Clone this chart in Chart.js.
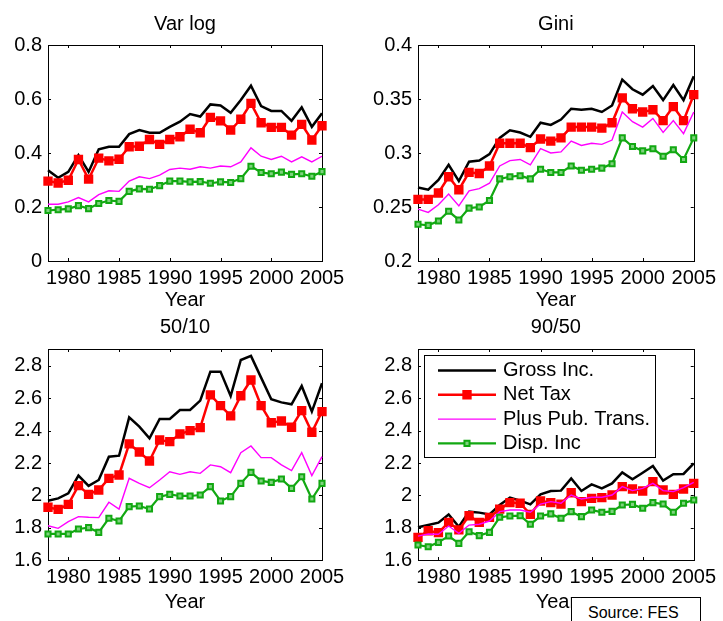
<!DOCTYPE html>
<html><head><meta charset="utf-8">
<script src="https://cdn.jsdelivr.net/npm/chart.js@4.4.0/dist/chart.umd.min.js"></script>
<style>
html,body{margin:0;padding:0;background:#fff;}
#wrap{position:relative;width:723px;height:621px;overflow:hidden;background:#fff;}
#wrap canvas{position:absolute;left:0;top:0;}
#src{position:absolute;left:571px;top:597px;width:130px;height:40px;border:1px solid #000;background:#fff;
 font-family:"Liberation Sans",Arial,sans-serif;font-size:16px;line-height:30px;padding-left:16px;box-sizing:border-box;color:#000;z-index:5;}
</style></head>
<body>
<div id="wrap">
<canvas id="c1" width="723" height="621"></canvas>
<canvas id="c2" width="723" height="621"></canvas>
<canvas id="c3" width="723" height="621"></canvas>
<canvas id="c4" width="723" height="621"></canvas>
<div id="src">Source: FES</div>
</div>
<script>
// ---------- data ----------
const years = [1978,1979,1980,1981,1982,1983,1984,1985,1986,1987,1988,1989,1990,1991,1992,1993,1994,1995,1996,1997,1998,1999,2000,2001,2002,2003,2004,2005];
const seriesLabels = ['Gross Inc.','Net Tax','Plus Pub. Trans.','Disp. Inc'];
const panelTitles = ['Var log','Gini','50/10','90/50'];

const varlogGross = [0.336,0.308,0.330,0.392,0.330,0.414,0.423,0.423,0.470,0.485,0.475,0.475,0.497,0.516,0.544,0.535,0.580,0.576,0.549,0.596,0.649,0.574,0.556,0.556,0.519,0.569,0.497,0.547];
const varlogNet   = [0.296,0.289,0.299,0.376,0.303,0.381,0.371,0.377,0.423,0.425,0.450,0.432,0.450,0.460,0.488,0.475,0.532,0.519,0.485,0.525,0.584,0.512,0.495,0.495,0.466,0.506,0.448,0.501];
const varlogPub   = [0.210,0.210,0.219,0.235,0.219,0.246,0.260,0.258,0.296,0.312,0.305,0.318,0.339,0.344,0.340,0.349,0.344,0.352,0.349,0.367,0.419,0.388,0.376,0.388,0.367,0.386,0.367,0.388];
const varlogDisp  = [0.187,0.190,0.193,0.205,0.194,0.213,0.224,0.221,0.258,0.267,0.266,0.279,0.296,0.296,0.293,0.294,0.288,0.293,0.291,0.305,0.351,0.328,0.323,0.329,0.321,0.323,0.314,0.331];

const giniGross = [0.268,0.266,0.275,0.289,0.274,0.292,0.293,0.299,0.314,0.321,0.319,0.315,0.328,0.326,0.331,0.341,0.340,0.341,0.338,0.344,0.368,0.359,0.354,0.362,0.349,0.363,0.349,0.371];
const giniNet   = [0.257,0.257,0.263,0.278,0.266,0.282,0.281,0.288,0.309,0.309,0.309,0.305,0.313,0.311,0.314,0.324,0.324,0.324,0.323,0.328,0.351,0.341,0.338,0.340,0.330,0.343,0.330,0.354];
const giniPub   = [0.248,0.245,0.252,0.262,0.251,0.265,0.267,0.272,0.288,0.293,0.294,0.289,0.304,0.300,0.301,0.311,0.307,0.309,0.308,0.312,0.338,0.329,0.324,0.332,0.319,0.330,0.318,0.338];
const giniDisp  = [0.234,0.233,0.237,0.246,0.238,0.249,0.250,0.256,0.276,0.278,0.279,0.276,0.285,0.282,0.282,0.288,0.284,0.285,0.286,0.290,0.314,0.306,0.302,0.304,0.297,0.303,0.294,0.314];

const r5010Gross = [1.967,1.981,2.012,2.122,2.058,2.095,2.239,2.245,2.482,2.425,2.353,2.472,2.472,2.528,2.528,2.586,2.765,2.765,2.614,2.837,2.862,2.728,2.594,2.575,2.563,2.676,2.518,2.693];
const r5010Net   = [1.926,1.913,1.944,2.060,2.006,2.033,2.105,2.126,2.318,2.268,2.212,2.342,2.332,2.379,2.400,2.419,2.621,2.555,2.491,2.616,2.713,2.555,2.449,2.460,2.421,2.524,2.390,2.518];
const r5010Pub   = [1.812,1.796,1.837,1.868,1.864,1.862,1.957,1.915,2.105,2.074,2.047,2.095,2.146,2.130,2.146,2.136,2.188,2.177,2.140,2.264,2.305,2.233,2.233,2.188,2.153,2.264,2.122,2.239];
const r5010Disp  = [1.761,1.761,1.761,1.792,1.800,1.771,1.858,1.841,1.930,1.934,1.915,1.992,2.006,1.996,1.996,2.002,2.054,1.965,1.992,2.074,2.142,2.089,2.080,2.101,2.043,2.115,1.977,2.074];

const r9050Gross = [1.802,1.816,1.831,1.882,1.806,1.899,1.893,1.882,1.940,1.986,1.967,1.944,2.006,2.027,2.029,2.105,2.027,2.068,2.043,2.074,2.142,2.099,2.140,2.181,2.091,2.130,2.132,2.198];
const r9050Net   = [1.740,1.781,1.769,1.833,1.786,1.874,1.833,1.864,1.915,1.955,1.951,1.882,1.965,1.955,1.946,2.016,1.961,1.981,1.986,2.002,2.054,2.039,2.027,2.085,2.033,2.006,2.039,2.074];
const r9050Pub   = [1.748,1.761,1.759,1.810,1.765,1.816,1.821,1.841,1.899,1.909,1.909,1.895,1.946,1.961,1.951,2.002,1.977,1.988,1.988,2.002,2.054,2.029,2.043,2.074,2.029,2.023,2.047,2.080];
const r9050Disp  = [1.693,1.682,1.709,1.748,1.703,1.775,1.751,1.771,1.864,1.872,1.874,1.821,1.872,1.885,1.858,1.899,1.868,1.909,1.895,1.901,1.940,1.944,1.920,1.955,1.946,1.895,1.951,1.971];

const xTicks = [1980,1985,1990,1995,2000,2005];
const varlogTicks = [0,0.2,0.4,0.6,0.8];
const giniTicks = [0.2,0.25,0.3,0.35,0.4];
const ratioTicks = [1.6,1.8,2,2.2,2.4,2.6,2.8];

// ---------- styling ----------
const FONT = '"Liberation Sans", Arial, Helvetica, sans-serif';
Chart.defaults.font.family = FONT;
Chart.defaults.color = '#000';

const seriesStyle = [
  {color:'#000000', width:2.5, radius:0},
  {color:'#ff0000', width:2.5, radius:5.2, fill:'#ff0000', bw:2},
  {color:'#ff00ff', width:1.4, radius:0},
  {color:'#12a812', width:2.2, radius:3.6, fill:'#7fd27f', bw:2}
];

const panels = [
  {id:'c1', title:panelTitles[0], series:[varlogGross,varlogNet,varlogPub,varlogDisp], ymin:0, ymax:0.8, yticks:varlogTicks,
   pad:{left:0,top:0,right:401,bottom:311}, yw:48, xh:49, tpad:{top:14.5,bottom:10.5}, xtb:0},
  {id:'c2', title:panelTitles[1], series:[giniGross,giniNet,giniPub,giniDisp], ymin:0.2, ymax:0.4, yticks:giniTicks,
   pad:{left:360,top:0,right:23,bottom:311}, yw:58, xh:49, tpad:{top:14.5,bottom:10.5}, xtb:0},
  {id:'c3', title:panelTitles[2], series:[r5010Gross,r5010Net,r5010Pub,r5010Disp], ymin:1.6, ymax:2.905, yticks:ratioTicks,
   pad:{left:0,top:310,right:401,bottom:0}, yw:48, xh:61, tpad:{top:7.5,bottom:11.5}, xtb:9},
  {id:'c4', title:panelTitles[3], series:[r9050Gross,r9050Net,r9050Pub,r9050Disp], ymin:1.6, ymax:2.905, yticks:ratioTicks,
   pad:{left:360,top:310,right:23,bottom:0}, yw:58, xh:61, tpad:{top:7.5,bottom:11.5}, xtb:9, legend:true}
];

// box + inward ticks on all four sides
const framePlugin = {
  id:'frame',
  beforeDatasetsDraw(chart){
    const {ctx, chartArea:a, scales:{x,y}} = chart;
    ctx.save();
    ctx.strokeStyle = '#000'; ctx.lineWidth = 1;
    ctx.strokeRect(Math.round(a.left)+0.5, Math.round(a.top)+0.5, Math.round(a.right-a.left), Math.round(a.bottom-a.top));
    const tl = 3;
    ctx.beginPath();
    x.ticks.forEach(t=>{
      const px = Math.round(x.getPixelForValue(t.value))+0.5;
      ctx.moveTo(px, a.bottom); ctx.lineTo(px, a.bottom-tl);
      ctx.moveTo(px, a.top); ctx.lineTo(px, a.top+tl);
    });
    y.ticks.forEach(t=>{
      const py = Math.round(y.getPixelForValue(t.value))+0.5;
      ctx.moveTo(a.left, py); ctx.lineTo(a.left+tl, py);
      ctx.moveTo(a.right, py); ctx.lineTo(a.right-tl, py);
    });
    ctx.stroke();
    ctx.restore();
  }
};

// MATLAB-like legend box inside the 90/50 axes
const legendBoxPlugin = {
  id:'legendBox',
  afterDatasetsDraw(chart, args, opts){
    if(!opts || !opts.show) return;
    const ctx = chart.ctx;
    const bx = 424.5, by = 355.5, bw = 231, bh = 102;
    ctx.save();
    ctx.fillStyle = '#fff'; ctx.fillRect(bx, by, bw, bh);
    ctx.strokeStyle = '#000'; ctx.lineWidth = 1; ctx.strokeRect(bx, by, bw, bh);
    chart.data.datasets.forEach((ds,i)=>{
      const yy = 370.5 + i*24.3;
      ctx.beginPath(); ctx.strokeStyle = ds.borderColor; ctx.lineWidth = ds.borderWidth;
      ctx.moveTo(438, yy); ctx.lineTo(496, yy); ctx.stroke();
      if(ds.pointRadius > 0){
        const s = ds.pointRadius*Math.SQRT1_2;
        ctx.fillStyle = ds.pointBackgroundColor; ctx.strokeStyle = ds.pointBorderColor; ctx.lineWidth = ds.pointBorderWidth;
        ctx.beginPath(); ctx.rect(467-s, yy-s, 2*s, 2*s); ctx.fill(); ctx.stroke();
      }
      ctx.fillStyle = '#000'; ctx.font = '20px ' + FONT; ctx.textBaseline = 'middle'; ctx.textAlign = 'left';
      ctx.fillText(ds.label, 503, yy);
    });
    ctx.restore();
  }
};

function fmt(v){ return String(Number(v.toFixed(3))); }

panels.forEach(p=>{
  const datasets = p.series.map((vals,i)=>{
    const st = seriesStyle[i];
    return {
      label: seriesLabels[i],
      data: years.map((yr,k)=>({x:yr, y:vals[k]})),
      borderColor: st.color, backgroundColor: st.color, borderWidth: st.width,
      pointRadius: st.radius, pointHoverRadius: st.radius, pointStyle:'rect',
      pointBackgroundColor: st.fill || st.color, pointBorderColor: st.color, pointBorderWidth: st.bw || 0,
      tension: 0, fill: false, clip: false, order: 4 - i
    };
  });
  new Chart(document.getElementById(p.id), {
    type:'line',
    data:{datasets},
    options:{
      responsive:false, animation:false, events:[],
      layout:{padding:p.pad},
      plugins:{
        legend:{display:false}, tooltip:{enabled:false},
        title:{display:true, text:p.title, fullSize:false, color:'#000',
               font:{size:20, weight:'normal', lineHeight:1, family:FONT}, padding:p.tpad},
        legendBox:{show:!!p.legend}
      },
      scales:{
        x:{type:'linear', min:1978, max:2005,
           grid:{display:false, drawTicks:false}, border:{display:false},
           afterBuildTicks:s=>{ s.ticks = xTicks.map(v=>({value:v})); },
           afterFit:s=>{ s.height = p.xh; },
           ticks:{autoSkip:false, maxRotation:0, minRotation:0, padding:7, color:'#000',
                  font:{size:20, lineHeight:1, family:FONT}, callback:v=>String(v)},
           title:{display:true, text:'Year', color:'#000', font:{size:20, lineHeight:1, family:FONT},
                  padding:{top:0, bottom:p.xtb}}
        },
        y:{type:'linear', min:p.ymin, max:p.ymax,
           grid:{display:false, drawTicks:false}, border:{display:false},
           afterBuildTicks:s=>{ s.ticks = p.yticks.map(v=>({value:v})); },
           afterFit:s=>{ s.width = p.yw; },
           ticks:{autoSkip:false, padding:6, color:'#000', font:{size:20, lineHeight:1, family:FONT}, callback:v=>fmt(v)}
        }
      }
    },
    plugins:[framePlugin, legendBoxPlugin]
  });
});
</script>
</body></html>
